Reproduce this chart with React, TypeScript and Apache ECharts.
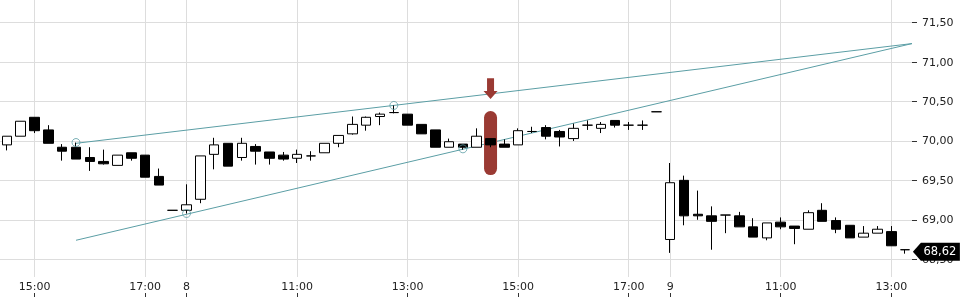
import React, { useEffect, useRef } from 'react';
import * as echarts from 'echarts';

// 15-minute bars: day 7 (14:30-17:30), day 8 (9:00-17:30), day 9 (9:00-13:15)
const times = [
  '7 14:30', '7 14:45', '7 15:00', '7 15:15', '7 15:30', '7 15:45', '7 16:00', '7 16:15', '7 16:30', '7 16:45',
  '7 17:00', '7 17:15', '7 17:30',
  '8 09:00', '8 09:15', '8 09:30', '8 09:45', '8 10:00', '8 10:15', '8 10:30', '8 10:45', '8 11:00', '8 11:15',
  '8 11:30', '8 11:45', '8 12:00', '8 12:15', '8 12:30', '8 12:45', '8 13:00', '8 13:15', '8 13:30', '8 13:45',
  '8 14:00', '8 14:15', '8 14:30', '8 14:45', '8 15:00', '8 15:15', '8 15:30', '8 15:45', '8 16:00', '8 16:15',
  '8 16:30', '8 16:45', '8 17:00', '8 17:15', '8 17:30',
  '9 09:00', '9 09:15', '9 09:30', '9 09:45', '9 10:00', '9 10:15', '9 10:30', '9 10:45', '9 11:00', '9 11:15',
  '9 11:30', '9 11:45', '9 12:00', '9 12:15', '9 12:30', '9 12:45', '9 13:00', '9 13:15',
];

// [open, close, low, high]
const ohlc = [
  [69.95, 70.06, 69.88, 70.06],
  [70.06, 70.25, 70.06, 70.25],
  [70.30, 70.13, 70.10, 70.30],
  [70.14, 69.97, 69.97, 70.20],
  [69.92, 69.87, 69.75, 69.96],
  [69.92, 69.77, 69.77, 69.98],
  [69.79, 69.74, 69.62, 69.92],
  [69.74, 69.71, 69.70, 69.89],
  [69.69, 69.82, 69.69, 69.82],
  [69.85, 69.78, 69.75, 69.85],
  [69.82, 69.54, 69.54, 69.82],
  [69.55, 69.44, 69.44, 69.65],
  [69.12, 69.12, 69.12, 69.12],
  [69.12, 69.19, 69.08, 69.45],
  [69.26, 69.81, 69.21, 69.81],
  [69.83, 69.95, 69.64, 70.04],
  [69.97, 69.68, 69.68, 69.97],
  [69.79, 69.97, 69.75, 70.04],
  [69.93, 69.87, 69.70, 69.96],
  [69.86, 69.78, 69.70, 69.86],
  [69.82, 69.77, 69.75, 69.86],
  [69.78, 69.83, 69.72, 69.89],
  [69.81, 69.81, 69.75, 69.87],
  [69.85, 69.97, 69.85, 69.97],
  [69.97, 70.07, 69.92, 70.07],
  [70.09, 70.21, 70.08, 70.31],
  [70.20, 70.30, 70.13, 70.31],
  [70.31, 70.34, 70.20, 70.36],
  [70.36, 70.36, 70.35, 70.45],
  [70.34, 70.20, 70.20, 70.34],
  [70.21, 70.09, 70.09, 70.21],
  [70.14, 69.92, 69.92, 70.14],
  [69.92, 69.99, 69.92, 70.03],
  [69.96, 69.92, 69.89, 69.96],
  [69.92, 70.06, 69.92, 70.16],
  [70.03, 69.95, 69.92, 70.03],
  [69.96, 69.92, 69.92, 70.02],
  [69.95, 70.13, 69.95, 70.16],
  [70.12, 70.12, 70.10, 70.18],
  [70.17, 70.06, 70.02, 70.20],
  [70.12, 70.05, 69.93, 70.14],
  [70.03, 70.16, 70.00, 70.22],
  [70.20, 70.20, 70.14, 70.26],
  [70.16, 70.21, 70.10, 70.24],
  [70.26, 70.20, 70.17, 70.26],
  [70.20, 70.20, 70.14, 70.24],
  [70.20, 70.20, 70.14, 70.26],
  [70.37, 70.37, 70.37, 70.37],
  [68.75, 69.47, 68.58, 69.72],
  [69.50, 69.05, 68.93, 69.56],
  [69.07, 69.05, 69.00, 69.37],
  [69.05, 68.98, 68.62, 69.17],
  [69.06, 69.06, 68.83, 69.06],
  [69.05, 68.91, 68.91, 69.10],
  [68.91, 68.78, 68.78, 69.02],
  [68.77, 68.96, 68.74, 68.96],
  [68.97, 68.91, 68.88, 69.03],
  [68.92, 68.89, 68.69, 68.92],
  [68.88, 69.09, 68.88, 69.12],
  [69.12, 68.98, 68.98, 69.21],
  [68.99, 68.88, 68.83, 69.03],
  [68.93, 68.77, 68.77, 68.93],
  [68.78, 68.83, 68.78, 68.92],
  [68.83, 68.88, 68.83, 68.92],
  [68.85, 68.67, 68.67, 68.92],
  [68.62, 68.62, 68.57, 68.62],
];

const tickIndex = [2, 10, 13, 21, 29, 37, 45, 48, 56, 64];
const tickText = ['15:00', '17:00', '8', '11:00', '13:00', '15:00', '17:00', '9', '11:00', '13:00'];
const priceTicks = [68.5, 69, 69.5, 70, 70.5, 71, 71.5];

const upperTrend = [[5, 69.97], [65.5, 71.235]];
const lowerTrend = [[5, 68.74], [65.5, 71.235]];
const touchPoints = [[5, 69.98], [13, 69.08], [28, 70.45], [33, 69.9]];

const signalIndex = 35;
const signalPrice = 69.973;
const arrowPrice = 70.664;
const lastPrice = 68.62;

const FONT = 'DejaVu Sans';
const TEAL = '#5b9ea5';
const RED = '#9a3a33';
const fmtPrice = (v: number) => v.toFixed(2).replace('.', ',');

export default function App() {
  const ref = useRef<HTMLDivElement>(null);
  useEffect(() => {
    if (!ref.current) return;
    const chart = echarts.init(ref.current, null, { renderer: 'svg' });
    chart.setOption({
      animation: false,
      textStyle: { fontFamily: FONT },
      grid: { left: 0, right: 48, top: 0, bottom: 23, containLabel: false },
      xAxis: [
        {
          type: 'category',
          data: times,
          boundaryGap: true,
          show: false,
        },
        {
          type: 'value',
          min: -0.5,
          max: 65.5,
          position: 'bottom',
          offset: 16,
          axisLine: { show: false, onZero: false },
          axisTick: {
            show: true,
            customValues: tickIndex,
            length: 4,
            lineStyle: { color: '#333', width: 1 },
          },
          axisLabel: {
            show: true,
            customValues: tickIndex,
            inside: true,
            margin: 1,
            fontSize: 11,
            color: '#222',
            fontFamily: FONT,
            formatter: (v: number) => {
              const i = tickIndex.indexOf(Math.round(v));
              return i >= 0 ? tickText[i] : '';
            },
          },
          splitLine: { show: true, lineStyle: { color: '#dddddd', width: 1 } },
        },
      ],
      yAxis: {
        type: 'value',
        position: 'right',
        min: 68.274,
        max: 71.788,
        scale: true,
        axisLine: { show: false, onZero: false },
        axisTick: {
          show: true,
          customValues: priceTicks,
          length: 5,
          lineStyle: { color: '#333', width: 1 },
        },
        axisLabel: {
          customValues: priceTicks,
          margin: 10,
          fontSize: 11,
          color: '#222',
          fontFamily: FONT,
          formatter: (v: number) => fmtPrice(v),
        },
        splitLine: { show: true, lineStyle: { color: '#dddddd', width: 1 } },
      },
      series: [
        {
          type: 'line',
          name: 'upper',
          xAxisIndex: 1,
          data: upperTrend,
          symbol: 'none',
          z: 1,
          clip: false,
          lineStyle: { color: TEAL, width: 1 },
          markPoint: {
            z: 2,
            label: { show: false },
            data: [
              {
                coord: [signalIndex, signalPrice],
                symbol: 'path://M0,6.5A6.5,6.5,0,0,1,13,6.5L13,57.5A6.5,6.5,0,0,1,0,57.5Z',
                symbolSize: [13, 64],
                itemStyle: { color: RED },
              },
            ],
          },
        },
        {
          type: 'line',
          name: 'lower',
          xAxisIndex: 1,
          data: lowerTrend,
          symbol: 'none',
          z: 1,
          clip: false,
          lineStyle: { color: TEAL, width: 1 },
          markPoint: {
            z: 6,
            data: [
              {
                coord: [signalIndex, arrowPrice],
                symbol: 'path://M3.5,0L10.5,0L10.5,12.7L14,12.7L7,20.7L0,12.7L3.5,12.7Z',
                symbolSize: [14, 20.7],
                itemStyle: { color: RED },
                label: { show: false },
              },
              {
                coord: [65, lastPrice],
                symbol: 'path://M0,9L8,0L47,0L47,18L8,18Z',
                symbolSize: [47, 18],
                symbolOffset: [31.3, 2],
                itemStyle: { color: '#000' },
                label: {
                  show: true,
                  position: 'inside',
                  offset: [3.5, -1],
                  color: '#fff',
                  fontSize: 11.5,
                  fontFamily: FONT,
                  formatter: () => fmtPrice(lastPrice),
                },
              },
            ],
          },
        },
        {
          type: 'scatter',
          xAxisIndex: 1,
          data: touchPoints,
          symbol: 'circle',
          symbolSize: 8,
          z: 4,
          itemStyle: { color: 'rgba(255,255,255,0)', borderColor: TEAL, borderWidth: 1 },
        },
        {
          type: 'candlestick',
          xAxisIndex: 0,
          data: ohlc,
          barWidth: 10,
          z: 3,
          itemStyle: {
            color: '#ffffff',
            color0: '#000000',
            borderColor: '#000000',
            borderColor0: '#000000',
            borderColorDoji: '#000000',
            borderWidth: 1,
          },
        },
      ],
    });
    return () => chart.dispose();
  }, []);
  return <div ref={ref} style={{ position: 'fixed', left: 0, top: 0, width: 960, height: 300 }} />;
}
